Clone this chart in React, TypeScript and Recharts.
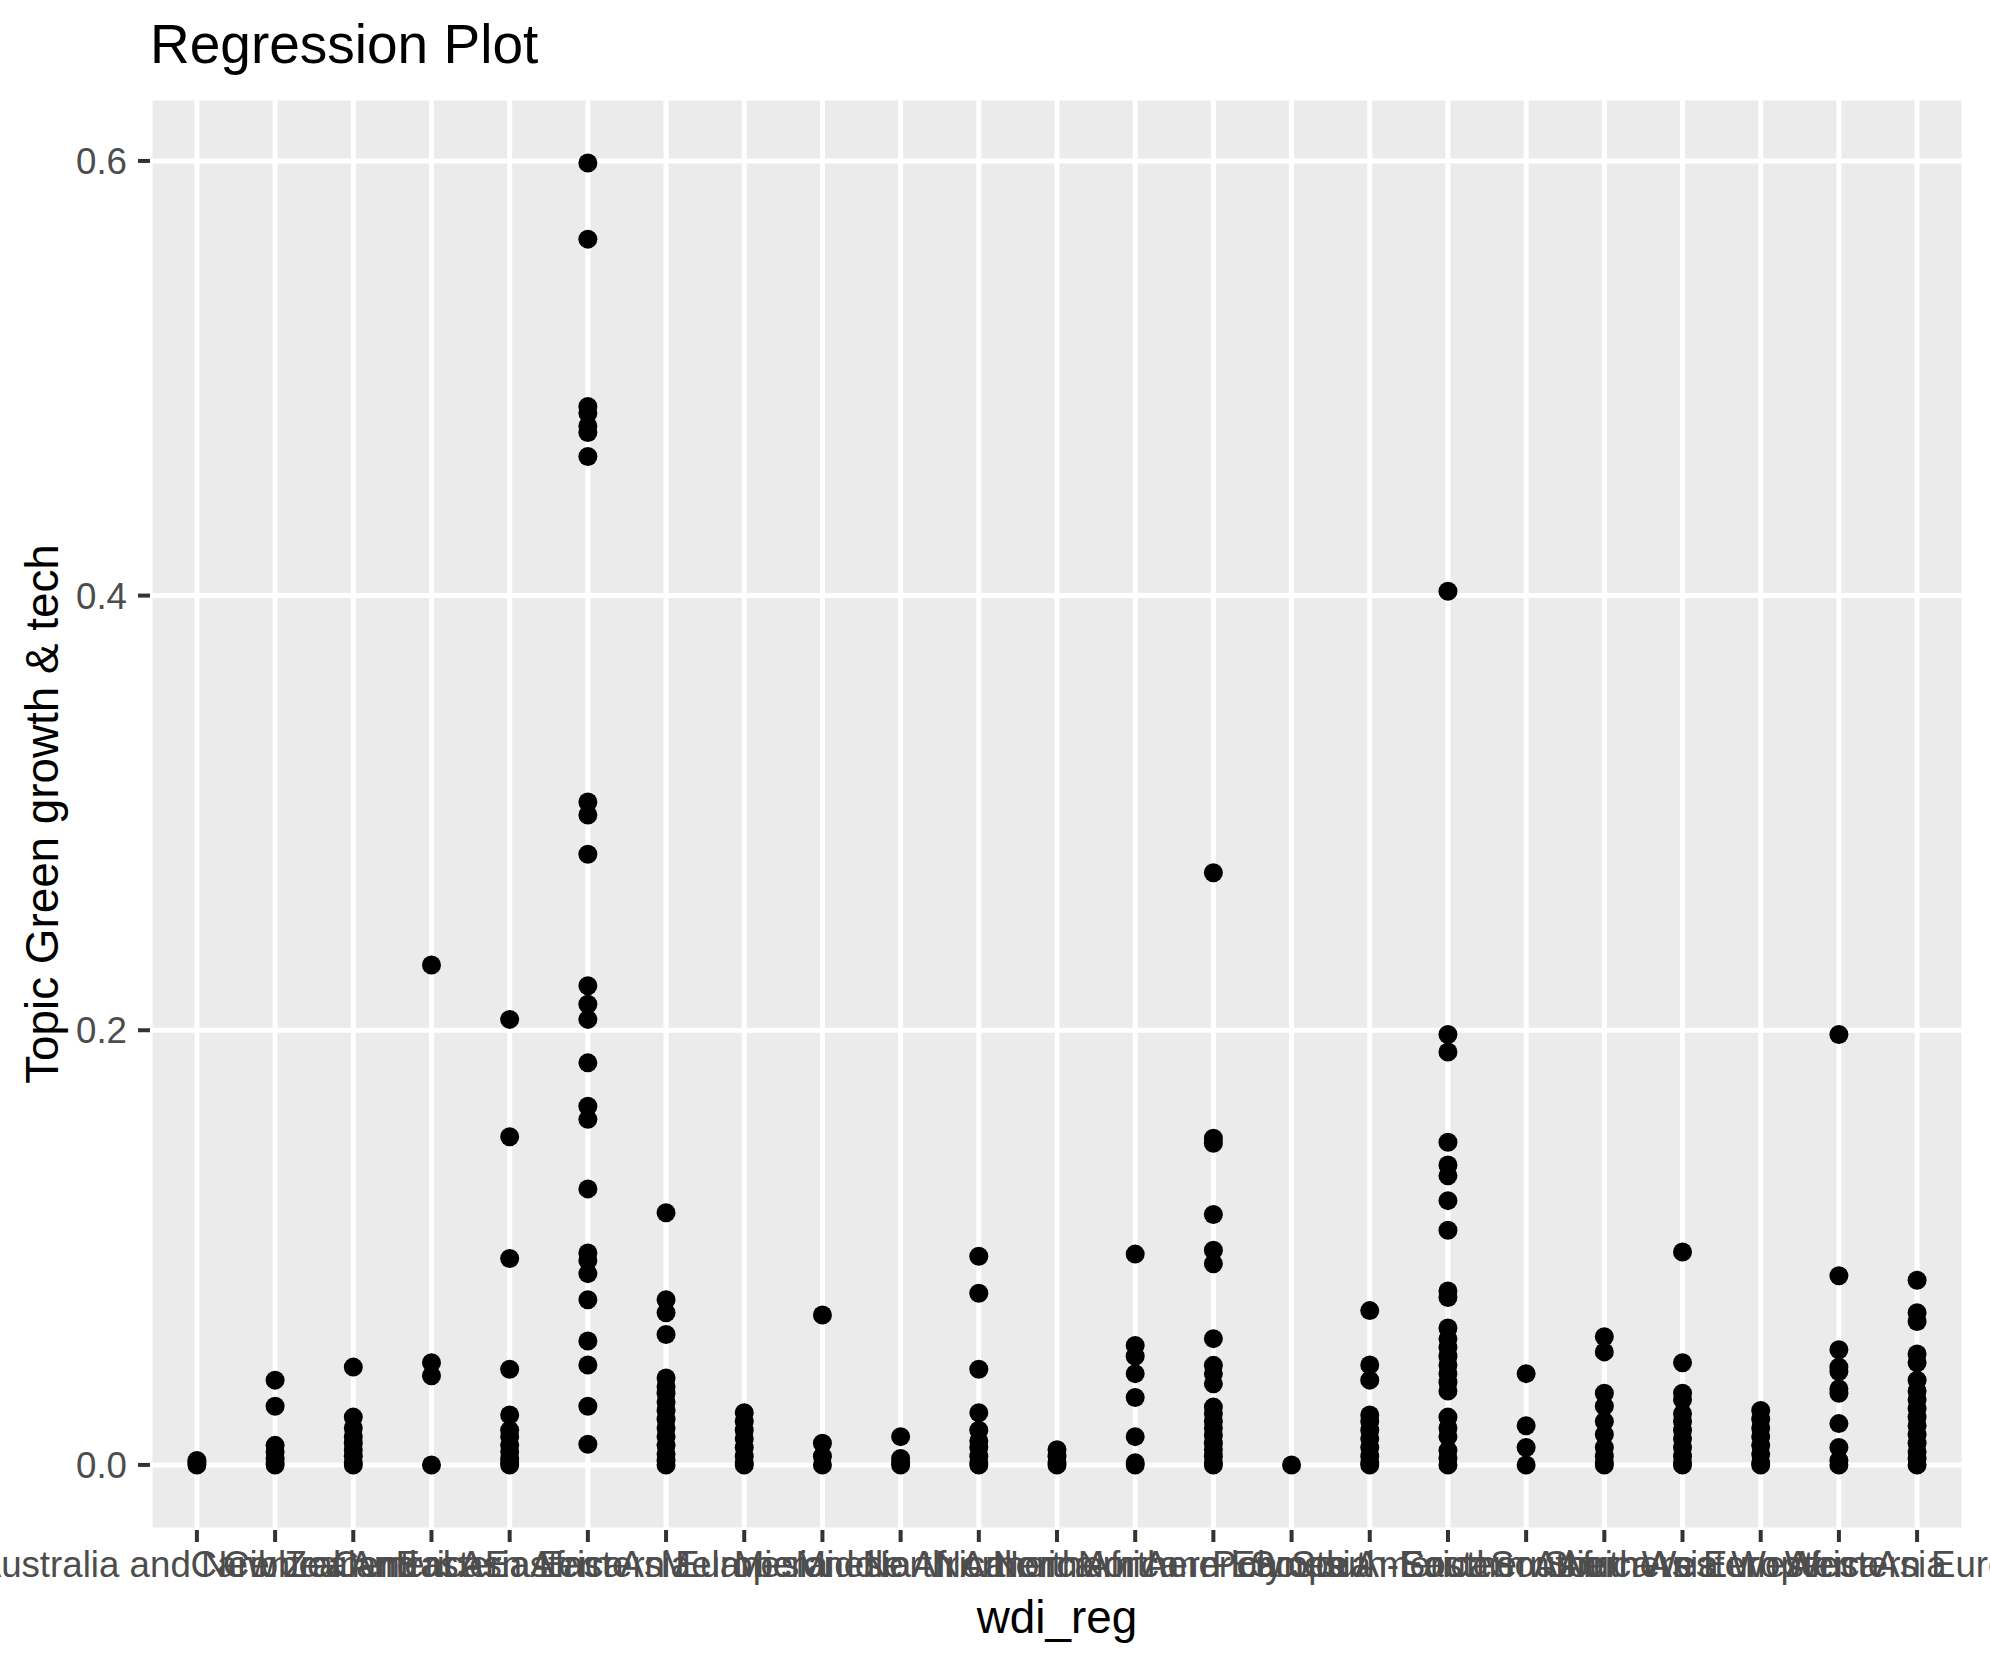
import React from 'react';
import { ScatterChart, Scatter, XAxis, YAxis, CartesianGrid } from 'recharts';

const FONT = '"Liberation Sans", Arial, Helvetica, sans-serif';

const categories = [
  'Australia and New Zealand',
  'Caribbean',
  'Central America',
  'Central Asia',
  'Eastern Africa',
  'Eastern Asia',
  'Eastern Europe',
  'Melanesia',
  'Micronesia',
  'Middle Africa',
  'North America',
  'Northern Africa',
  'Northern America',
  'Northern Europe',
  'Polynesia',
  'South America',
  'South-Eastern Asia',
  'Southern Africa',
  'Southern Asia',
  'Southern Europe',
  'Western Africa',
  'Western Asia',
  'Western Europe',
];

const australiaNZ = [0.002, 0.001, 0.0];
const caribbean = [0.039, 0.027, 0.009, 0.006, 0.003, 0.001, 0.0];
const centralAmerica = [0.045, 0.022, 0.017, 0.013, 0.01, 0.007, 0.004, 0.001, 0.0];
const centralAsia = [0.23, 0.047, 0.041, 0.0];
const easternAfrica = [0.205, 0.151, 0.095, 0.044, 0.023, 0.016, 0.013, 0.009, 0.006, 0.003, 0.001, 0.0];
const easternAsia = [
  0.599, 0.564, 0.487, 0.484, 0.478, 0.475, 0.464, 0.305, 0.299, 0.281, 0.2205, 0.212, 0.205,
  0.185, 0.165, 0.159, 0.127, 0.0975, 0.094, 0.088, 0.076, 0.057, 0.046, 0.027, 0.0095,
];
const easternEurope = [0.116, 0.076, 0.07, 0.06, 0.04, 0.036, 0.033, 0.029, 0.025, 0.021, 0.017, 0.013, 0.009, 0.005, 0.002, 0.0];
const melanesia = [0.024, 0.02, 0.016, 0.012, 0.008, 0.004, 0.001, 0.0];
const micronesia = [0.069, 0.01, 0.004, 0.0];
const middleAfrica = [0.013, 0.003, 0.001, 0.0];
const northAmerica = [0.096, 0.079, 0.044, 0.024, 0.016, 0.011, 0.008, 0.004, 0.001, 0.0];
const northernAfrica = [0.007, 0.004, 0.001, 0.0];
const northernAmerica = [0.097, 0.055, 0.05, 0.042, 0.031, 0.013, 0.001, 0.0];
const northernEurope = [
  0.2725, 0.1503, 0.148, 0.1152, 0.0988, 0.0926, 0.0581, 0.0458, 0.0419, 0.0373, 0.0266,
  0.0235, 0.02, 0.017, 0.0135, 0.01, 0.007, 0.004, 0.001, 0.0,
];
const polynesia = [0.0];
const southAmerica = [0.071, 0.046, 0.039, 0.023, 0.02, 0.016, 0.012, 0.008, 0.004, 0.001, 0.0];
const southEasternAsia = [
  0.402, 0.198, 0.19, 0.1485, 0.138, 0.133, 0.1216, 0.108, 0.08, 0.077, 0.063, 0.058, 0.054,
  0.05, 0.046, 0.042, 0.038, 0.034, 0.022, 0.017, 0.013, 0.0066, 0.003, 0.0,
];
const southernAfrica = [0.042, 0.018, 0.008, 0.0];
const southernAsia = [0.059, 0.052, 0.033, 0.027, 0.02, 0.014, 0.008, 0.004, 0.001, 0.0];
const southernEurope = [0.098, 0.047, 0.033, 0.03, 0.0235, 0.02, 0.016, 0.012, 0.008, 0.004, 0.001, 0.0];
const westernAfrica = [0.025, 0.021, 0.017, 0.013, 0.009, 0.005, 0.001, 0.0];
const westernAsia = [0.198, 0.087, 0.053, 0.045, 0.043, 0.035, 0.033, 0.019, 0.008, 0.002, 0.0];
const westernEurope = [0.085, 0.07, 0.066, 0.051, 0.047, 0.039, 0.034, 0.03, 0.026, 0.022, 0.018, 0.014, 0.01, 0.006, 0.003, 0.0];

const seriesByCategory = [
  australiaNZ, caribbean, centralAmerica, centralAsia, easternAfrica, easternAsia, easternEurope,
  melanesia, micronesia, middleAfrica, northAmerica, northernAfrica, northernAmerica, northernEurope,
  polynesia, southAmerica, southEasternAsia, southernAfrica, southernAsia, southernEurope,
  westernAfrica, westernAsia, westernEurope,
];

const yTicks = [0, 0.2, 0.4, 0.6];
const yMinorTicks = [0.1, 0.3, 0.5];
const xTicks = categories.map((_, i) => i + 1);

const points = seriesByCategory.flatMap((vals, i) =>
  vals.map((v) => ({ x: i + 1, y: v, region: categories[i] }))
);
const yMax = Math.max(...points.map((p) => p.y));
const yPad = yMax * 0.05;

const Dot = (props: any) => {
  if (props.cx == null || props.cy == null) return null;
  return <circle cx={props.cx} cy={props.cy} r={9.5} fill="#000000" />;
};

const minorGen = (args: any) => {
  const axis = args && args.yAxis;
  if (!axis || typeof axis.scale !== 'function') return [];
  return yMinorTicks.map((v) => axis.scale(v));
};

export default function App() {
  return (
    <div style={{ position: 'absolute', left: 0, top: 0, width: 1990, height: 1665, background: '#FFFFFF' }}>
      <ScatterChart width={1990} height={1665} margin={{ top: 98, right: 26, bottom: 0, left: 0 }}>
        <CartesianGrid fill="#EBEBEB" stroke="none" horizontal={false} vertical={false} />
        <CartesianGrid
          stroke="#FFFFFF"
          strokeWidth={2.7}
          vertical={false}
          horizontalCoordinatesGenerator={minorGen}
        />
        <CartesianGrid stroke="#FFFFFF" strokeWidth={5} />
        <XAxis
          dataKey="x"
          type="number"
          domain={[0.4, 23.6]}
          ticks={xTicks}
          interval={0}
          tickFormatter={(v: number) => categories[Math.round(v) - 1]}
          axisLine={false}
          tickSize={12}
          tickMargin={9}
          height={135}
          tickLine={{ stroke: '#333333', strokeWidth: 4 }}
          tick={{ fill: '#4D4D4D', fontSize: 36.7, fontFamily: FONT }}
        />
        <YAxis
          dataKey="y"
          type="number"
          domain={[-yPad, yMax + yPad]}
          ticks={yTicks}
          interval={0}
          tickFormatter={(v: number) => v.toFixed(1)}
          axisLine={false}
          tickSize={12}
          tickMargin={11}
          width={150}
          tickLine={{ stroke: '#333333', strokeWidth: 4 }}
          tick={{ fill: '#4D4D4D', fontSize: 36.7, fontFamily: FONT }}
        />
        <Scatter data={points} shape={Dot} fill="#000000" isAnimationActive={false} />
      </ScatterChart>
      <svg
        width={1990}
        height={1665}
        style={{ position: 'absolute', left: 0, top: 0, pointerEvents: 'none' }}
      >
        <text x={150} y={63} fontSize={55} fontFamily={FONT} fill="#000000">
          Regression Plot
        </text>
        <text x={1057} y={1633} fontSize={45.8} fontFamily={FONT} fill="#000000" textAnchor="middle">
          wdi_reg
        </text>
        <text
          x={0}
          y={0}
          transform="translate(58, 814) rotate(-90)"
          fontSize={45.8}
          fontFamily={FONT}
          fill="#000000"
          textAnchor="middle"
        >
          Topic Green growth &amp; tech
        </text>
      </svg>
    </div>
  );
}
